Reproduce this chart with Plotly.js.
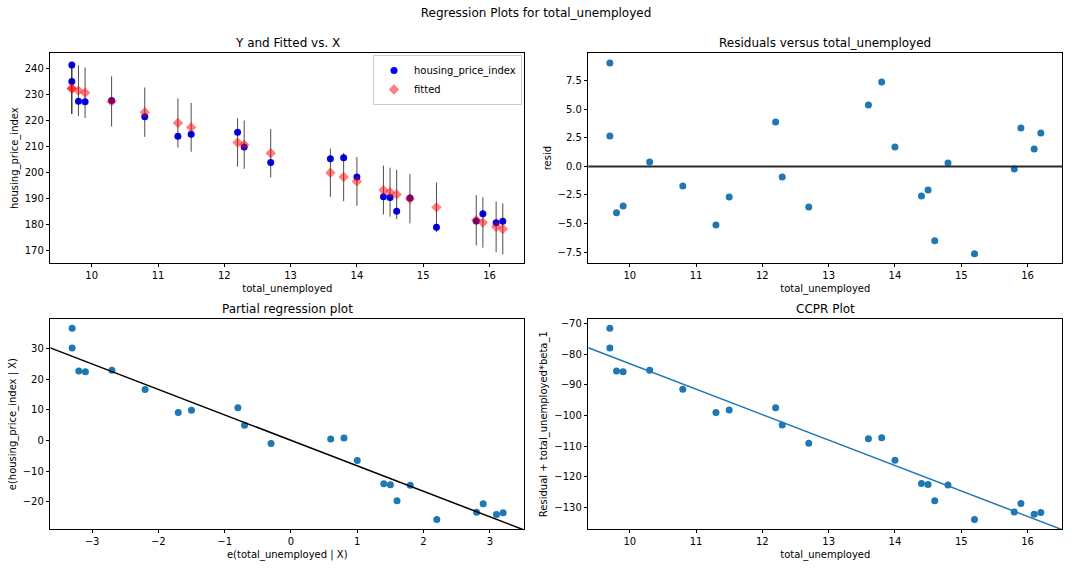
<!DOCTYPE html>
<html>
<head>
<meta charset="utf-8">
<script src="https://cdn.plot.ly/plotly-3.0.1.min.js"></script>
<style>html,body{margin:0;padding:0;background:#fff;}#chart{width:1072px;height:568px;}</style>
</head>
<body>
<div id="chart"></div>
<script>
// ---- data ----
const totalUnemployed = [9.7,9.7,9.8,9.9,10.3,10.8,11.3,11.5,12.2,12.3,12.7,13.6,13.8,14.0,14.4,14.5,14.6,14.8,15.2,15.8,15.9,16.1,16.2];
const housingPriceIndex = [241.34,234.95,227.41,227.16,227.69,221.43,213.87,214.66,215.40,209.76,203.80,205.25,205.60,198.26,190.65,190.34,185.07,190.20,178.95,181.37,184.13,180.63,181.20];
const fittedValues = [232.29,232.29,231.46,230.63,227.31,223.15,219.00,217.34,211.52,210.69,207.36,199.88,198.22,196.56,193.24,192.41,191.57,189.91,186.59,181.60,180.77,179.11,178.28];
const predIntervalHalf = [9.8,9.8,9.75,9.7,9.65,9.5,9.45,9.4,9.3,9.3,9.3,9.3,9.3,9.35,9.4,9.4,9.45,9.5,9.55,9.7,9.7,9.75,9.8];
const residuals = [9.05,2.66,-4.05,-3.47,0.38,-1.72,-5.13,-2.68,3.88,-0.93,-3.56,5.37,7.38,1.70,-2.59,-2.07,-6.50,0.29,-7.64,-0.23,3.36,1.52,2.92];
const eTotalUnemployed = [-3.3,-3.3,-3.2,-3.1,-2.7,-2.2,-1.7,-1.5,-0.8,-0.7,-0.3,0.6,0.8,1.0,1.4,1.5,1.6,1.8,2.2,2.8,2.9,3.1,3.2];
const eHousingPriceIndex = [36.54,30.15,22.61,22.36,22.89,16.63,9.07,9.86,10.60,4.96,-1.00,0.45,0.80,-6.54,-14.15,-14.46,-19.73,-14.60,-25.85,-23.43,-20.67,-24.17,-23.60];
const ccprValues = [-71.56,-77.95,-85.49,-85.74,-85.21,-91.47,-99.03,-98.25,-97.50,-103.14,-109.10,-107.65,-107.30,-114.64,-122.25,-122.57,-127.83,-122.70,-133.95,-131.53,-128.77,-132.27,-131.70];
const beta1 = -8.31;

// ---- axis ranges ----
const xRangeX = [9.375, 16.525];
const xRangePartial = [-3.63, 3.52];

const C0 = '#1f77b4';
const font = {family: 'DejaVu Sans, sans-serif', size: 10, color: '#000'};
const titleFont = {family: 'DejaVu Sans, sans-serif', size: 12, color: '#000'};

const traces = [
  {x: totalUnemployed, y: housingPriceIndex, type: 'scatter', mode: 'markers', name: 'housing_price_index',
   marker: {color: '#0000ff', size: 7}, xaxis: 'x', yaxis: 'y', showlegend: true},
  {x: totalUnemployed, y: fittedValues, type: 'scatter', mode: 'markers', name: 'fitted',
   marker: {color: 'rgba(255,0,0,0.5)', size: 8, symbol: 'diamond'},
   error_y: {type: 'data', array: predIntervalHalf, visible: true, width: 0, thickness: 1, color: 'rgba(0,0,0,0.7)'},
   xaxis: 'x', yaxis: 'y', showlegend: true},
  {x: totalUnemployed, y: residuals, type: 'scatter', mode: 'markers', marker: {color: C0, size: 7},
   xaxis: 'x2', yaxis: 'y2', showlegend: false},
  {x: eTotalUnemployed, y: eHousingPriceIndex, type: 'scatter', mode: 'markers', marker: {color: C0, size: 7},
   xaxis: 'x3', yaxis: 'y3', showlegend: false},
  {x: xRangePartial, y: xRangePartial.map(v => beta1 * v), type: 'scatter', mode: 'lines',
   line: {color: '#000', width: 1.5}, xaxis: 'x3', yaxis: 'y3', showlegend: false},
  {x: xRangeX, y: xRangeX.map(v => beta1 * v), type: 'scatter', mode: 'lines',
   line: {color: C0, width: 1.5}, xaxis: 'x4', yaxis: 'y4', showlegend: false},
  {x: totalUnemployed, y: ccprValues, type: 'scatter', mode: 'markers', marker: {color: C0, size: 7},
   xaxis: 'x4', yaxis: 'y4', showlegend: false}
];

function ax(domain, anchor, range, dtick, title, extra) {
  return Object.assign({
    domain: domain, anchor: anchor, range: range, dtick: dtick, tick0: 0,
    showgrid: false, zeroline: false, showline: true, mirror: true, linecolor: '#000', linewidth: 1,
    ticks: 'outside', ticklen: 3.5, tickwidth: 1, tickcolor: '#000', tickfont: font,
    title: {text: title, font: font, standoff: 4}
  }, extra || {});
}

const xL = [0.0469, 0.4891], xR = [0.5488, 0.9910];
const yT = [0.5370, 0.9062], yB = [0.0687, 0.4379];

const layout = {
  width: 1072, height: 568,
  margin: {l: 0, r: 0, t: 0, b: 0},
  paper_bgcolor: '#fff', plot_bgcolor: '#fff',
  font: font,
  title: {text: 'Regression Plots for total_unemployed', font: titleFont,
          x: 0.5, xanchor: 'center', y: 1 - 13/568, yanchor: 'middle', yref: 'container'},
  xaxis: ax(xL, 'y', xRangeX, 1, 'total_unemployed'),
  yaxis: ax(yT, 'x', [165.2, 245.8], 10, 'housing_price_index'),
  xaxis2: ax(xR, 'y2', xRangeX, 1, 'total_unemployed'),
  yaxis2: ax(yT, 'x2', [-8.45, 9.9], 2.5, 'resid', {tickformat: '.1f'}),
  xaxis3: ax(xL, 'y3', xRangePartial, 1, 'e(total_unemployed | X)'),
  yaxis3: ax(yB, 'x3', [-28.9, 39.5], 10, 'e(housing_price_index | X)'),
  xaxis4: ax(xR, 'y4', xRangeX, 1, 'total_unemployed'),
  yaxis4: ax(yB, 'x4', [-137.07, -68.6], 10, 'Residual + total_unemployed*beta_1'),
  shapes: [
    {type: 'line', xref: 'x2 domain', yref: 'y2', x0: 0, x1: 1, y0: 0, y1: 0, line: {color: '#2a2a2a', width: 2}}
  ],
  legend: {x: 373/1072, y: 1 - 55/568, xanchor: 'left', yanchor: 'top',
           bgcolor: 'rgba(255,255,255,0.8)', bordercolor: '#cccccc', borderwidth: 1, font: font},
  annotations: [
    {text: 'Y and Fitted vs. X', xref: 'paper', yref: 'paper', x: (xL[0]+xL[1])/2, y: 1 - 42.5/568, xanchor: 'center', yanchor: 'middle', showarrow: false, font: titleFont},
    {text: 'Residuals versus total_unemployed', xref: 'paper', yref: 'paper', x: (xR[0]+xR[1])/2, y: 1 - 42.5/568, xanchor: 'center', yanchor: 'middle', showarrow: false, font: titleFont},
    {text: 'Partial regression plot', xref: 'paper', yref: 'paper', x: (xL[0]+xL[1])/2, y: 1 - 308.5/568, xanchor: 'center', yanchor: 'middle', showarrow: false, font: titleFont},
    {text: 'CCPR Plot', xref: 'paper', yref: 'paper', x: (xR[0]+xR[1])/2, y: 1 - 308.5/568, xanchor: 'center', yanchor: 'middle', showarrow: false, font: titleFont}
  ]
};

Plotly.newPlot('chart', traces, layout, {displayModeBar: false, staticPlot: true});
</script>
</body>
</html>
